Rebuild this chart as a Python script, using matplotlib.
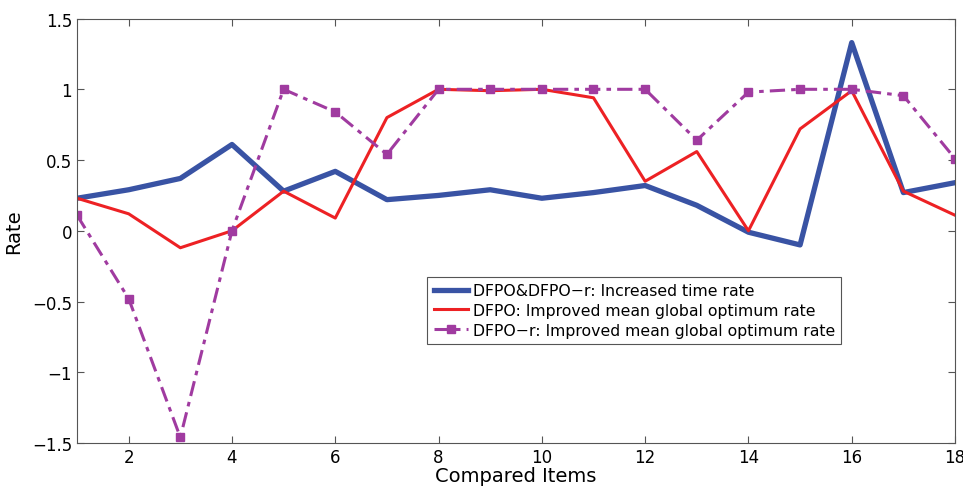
import numpy as np
import matplotlib
matplotlib.use("Agg")
import matplotlib.pyplot as plt

plt.rcParams["font.family"] = ["DejaVu Sans"]

items = np.arange(1, 19)
time_rate = [0.23, 0.29, 0.37, 0.61, 0.28, 0.42, 0.22, 0.25, 0.29,
             0.23, 0.27, 0.32, 0.18, -0.01, -0.10, 1.33, 0.27, 0.34]
dfpo_rate = [0.23, 0.12, -0.12, 0.0, 0.28, 0.09, 0.80, 1.0, 0.99,
             1.0, 0.94, 0.35, 0.56, 0.0, 0.72, 0.99, 0.28, 0.11]
dfpor_rate = [0.11, -0.48, -1.46, 0.0, 1.0, 0.84, 0.54, 1.0, 1.0,
              1.0, 1.0, 1.0, 0.64, 0.98, 1.0, 1.0, 0.955, 0.51]
labels = ["DFPO&DFPO\u2212r: Increased time rate",
          "DFPO: Improved mean global optimum rate",
          "DFPO\u2212r: Improved mean global optimum rate"]

fig = plt.figure(figsize=(9.63, 4.89), dpi=100)
ax = fig.add_axes([0.08, 0.092, 0.9117, 0.868])

ax.plot(items, time_rate, color="#3953a4", lw=3.8, label=labels[0])
ax.plot(items, dfpo_rate, color="#ed2124", lw=2.2, label=labels[1])
ax.plot(items, dfpor_rate, color="#a03ba0", lw=2.2, ls="-.",
        dashes=(5, 2, 1.5, 2), marker="s", ms=5.5, label=labels[2])

ax.set_xlim(1, 18)
ax.set_ylim(-1.5, 1.5)
ax.set_xticks(np.arange(2, 19, 2))
yt = [-1.5, -1, -0.5, 0, 0.5, 1, 1.5]
ax.set_yticks(yt)
ax.set_yticklabels([("%g" % v).replace("-", "\u2212") for v in yt])
ax.tick_params(direction="in", length=5, top=True, right=True,
               labeltop=False, labelright=False, labelsize=12, color="#555555")
for s in ax.spines.values():
    s.set_color("#555555")
    s.set_linewidth(0.8)

ax.set_xlabel("Compared Items", fontsize=14, labelpad=0)
ax.set_ylabel("Rate", fontsize=14, labelpad=6)

leg = ax.legend(loc="lower left", bbox_to_anchor=(0.39, 0.215),
                fontsize=11.3, fancybox=False, framealpha=1,
                edgecolor="#555555", handlelength=2.2, handletextpad=0.3,
                borderpad=0.4, labelspacing=0.3)
leg.get_frame().set_linewidth(0.8)

fig.savefig("out.png", dpi=100)
